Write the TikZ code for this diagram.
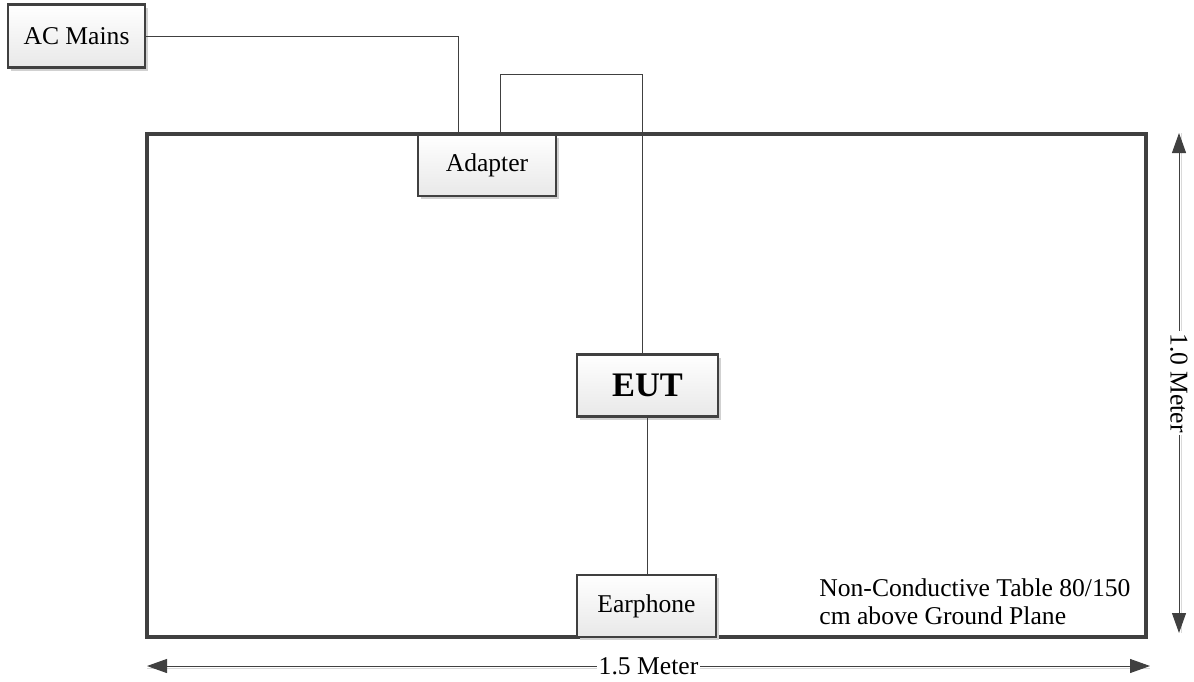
\documentclass[tikz,border=0pt]{standalone}
\usepackage{fontspec}
\setmainfont{Liberation Serif}
\usetikzlibrary{arrows.meta,shadows}
\definecolor{edge}{HTML}{404040}
\begin{document}
\begin{tikzpicture}[x=0.5pt,y=-0.5pt,
  box/.style={draw=edge,line width=1.4pt,top color=white,bottom color=black!9,
    drop shadow={shadow xshift=1.6pt,shadow yshift=-1.6pt,fill=black!18,opacity=1},
    inner sep=0pt,font=\fontsize{12.8}{15}\selectfont},
  wire/.style={draw=edge,line width=0.5pt},
  dim/.style={draw=edge,line width=0.5pt,{Triangle[length=10pt,width=7pt]}-{Triangle[length=10pt,width=7pt]}},
  dimshadow/.style={draw=black!15,line width=0.6pt},
  dimlabel/.style={fill=white,inner sep=1pt,font=\fontsize{12.8}{15}\selectfont},
  lbl/.style={font=\fontsize{12.8}{14.2}\selectfont,align=left,inner sep=0pt}]
\useasboundingbox (0,0) rectangle (1194,681);
% table
\node[draw=edge,line width=2pt,minimum width=499.5pt,minimum height=251.5pt,inner sep=0pt] (table) at (646.5,385.5) {};
% boxes
\node[box,minimum width=68.5pt,minimum height=31.5pt] (ac) at (76.5,36) {AC Mains};
\node[box,minimum width=69pt,minimum height=30.5pt] (adapter) at (487,165.5) {Adapter};
\node[box,minimum width=70.5pt,minimum height=31pt,font=\fontsize{17.2}{20}\selectfont\bfseries] (eut) at (647.5,385.5) {EUT};
\node[box,minimum width=69.5pt,minimum height=31pt] (ear) at (646.5,606) {Earphone};
% wires
\draw[wire] (ac.east) -| ([xshift=-14.5pt]adapter.north);
\draw[wire] ([xshift=6.5pt]adapter.north) -- ++(0,-59) -| ([xshift=-2.75pt]eut.north);
\draw[wire] (eut.south) -- (eut.south |- ear.north);
% label
\node[lbl,anchor=north west] (tlabel) at (819,578) {Non-Conductive Table 80/150\\cm above Ground Plane};
% dimensions
\coordinate (vt) at (1179,133);
\coordinate (vb) at (1179,633);
\coordinate (hl) at (147,666);
\coordinate (hr) at (1150,666);
\draw[dimshadow] ([xshift=1.2pt]vt) -- ([xshift=1.2pt]vb);
\draw[dimshadow] ([yshift=-1.2pt]hl) -- ([yshift=-1.2pt]hr);
\draw[dim] (vt) -- (vb) node[midway,dimlabel,rotate=-90] (vlab) {1.0 Meter};
\draw[dim] (hl) -- (hr) node[midway,dimlabel] (hlab) {1.5 Meter};
\end{tikzpicture}
\end{document}
